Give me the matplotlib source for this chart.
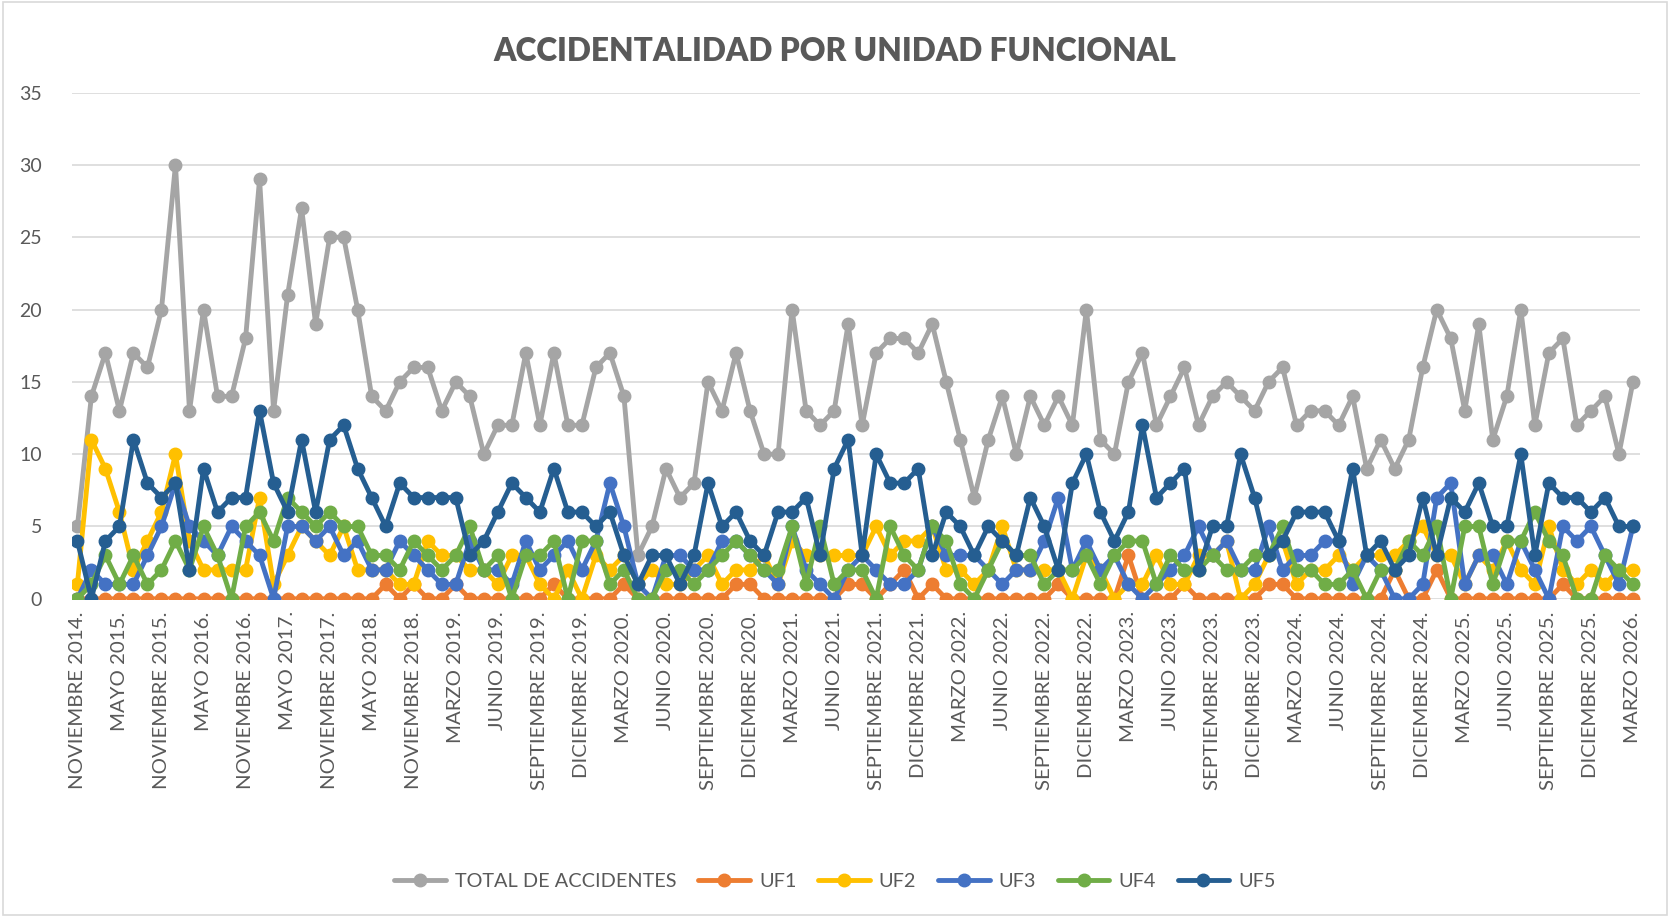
import matplotlib
matplotlib.use("Agg")
import matplotlib.pyplot as plt
from matplotlib.patches import Rectangle

plt.rcParams['font.family'] = ['Lato', 'DejaVu Sans']

# etiquetas visibles del eje X (una cada tres registros)
tick_labels = [
    "NOVIEMBRE 2014.", "MAYO 2015.", "NOVIEMBRE 2015.", "MAYO 2016.", "NOVIEMBRE 2016.",
    "MAYO 2017.", "NOVIEMBRE 2017.", "MAYO 2018.", "NOVIEMBRE 2018.", "MARZO 2019.",
    "JUNIO 2019.", "SEPTIEMBRE 2019.", "DICIEMBRE 2019.", "MARZO 2020.", "JUNIO 2020.",
    "SEPTIEMBRE 2020.", "DICIEMBRE 2020.", "MARZO 2021.", "JUNIO 2021.", "SEPTIEMBRE 2021.",
    "DICIEMBRE 2021.", "MARZO 2022.", "JUNIO 2022.", "SEPTIEMBRE 2022.", "DICIEMBRE 2022.",
    "MARZO 2023.", "JUNIO 2023.", "SEPTIEMBRE 2023.", "DICIEMBRE 2023.", "MARZO 2024.",
    "JUNIO 2024.", "SEPTIEMBRE 2024.", "DICIEMBRE 2024.", "MARZO 2025.", "JUNIO 2025.",
    "SEPTIEMBRE 2025.", "DICIEMBRE 2025.", "MARZO 2026.",
]

total = [5, 14, 17, 13, 17, 16, 20, 30, 13, 20, 14, 14, 18, 29, 13, 21, 27, 19, 25, 25,
         20, 14, 13, 15, 16, 16, 13, 15, 14, 10, 12, 12, 17, 12, 17, 12, 12, 16, 17, 14,
         3, 5, 9, 7, 8, 15, 13, 17, 13, 10, 10, 20, 13, 12, 13, 19, 12, 17, 18, 18,
         17, 19, 15, 11, 7, 11, 14, 10, 14, 12, 14, 12, 20, 11, 10, 15, 17, 12, 14, 16,
         12, 14, 15, 14, 13, 15, 16, 12, 13, 13, 12, 14, 9, 11, 9, 11, 16, 20, 18, 13,
         19, 11, 14, 20, 12, 17, 18, 12, 13, 14, 10, 15]

uf1 = [0, 0, 0, 0, 0, 0, 0, 0, 0, 0, 0, 0, 0, 0, 0, 0, 0, 0, 0, 0,
       0, 0, 1, 0, 1, 0, 0, 1, 0, 0, 0, 0, 0, 0, 1, 0, 0, 0, 0, 1,
       0, 0, 0, 0, 0, 0, 0, 1, 1, 0, 0, 0, 0, 0, 0, 1, 1, 0, 1, 2,
       0, 1, 0, 0, 0, 0, 0, 0, 0, 0, 1, 0, 0, 0, 0, 3, 0, 0, 0, 1,
       0, 0, 0, 0, 0, 1, 1, 0, 0, 0, 0, 0, 0, 0, 2, 0, 0, 2, 0, 0,
       0, 0, 0, 0, 0, 0, 1, 0, 0, 0, 0, 0]

uf2 = [1, 11, 9, 6, 2, 4, 6, 10, 4, 2, 2, 2, 2, 7, 1, 3, 5, 4, 3, 5,
       2, 2, 2, 1, 1, 4, 3, 3, 2, 2, 1, 3, 3, 1, 0, 2, 0, 3, 2, 3,
       1, 2, 1, 1, 2, 3, 1, 2, 2, 3, 1, 4, 3, 3, 3, 3, 3, 5, 3, 4,
       4, 5, 2, 2, 1, 2, 5, 2, 2, 2, 2, 0, 3, 2, 0, 1, 1, 3, 1, 1,
       3, 3, 4, 0, 1, 3, 4, 1, 2, 2, 3, 2, 3, 3, 3, 4, 5, 3, 3, 1,
       3, 2, 4, 2, 1, 5, 2, 1, 2, 1, 2, 2]

uf3 = [0, 2, 1, 1, 1, 3, 5, 8, 5, 4, 3, 5, 4, 3, 0, 5, 5, 4, 5, 3,
       4, 2, 2, 4, 3, 2, 1, 1, 4, 2, 2, 1, 4, 2, 3, 4, 2, 4, 8, 5,
       1, 0, 3, 3, 2, 2, 4, 4, 3, 2, 1, 5, 2, 1, 0, 2, 3, 2, 1, 1,
       2, 5, 3, 3, 3, 2, 1, 2, 2, 4, 7, 2, 4, 2, 3, 1, 0, 1, 2, 3,
       5, 3, 4, 2, 2, 5, 2, 3, 3, 4, 4, 1, 3, 2, 0, 0, 1, 7, 8, 1,
       3, 3, 1, 4, 2, 0, 5, 4, 5, 3, 1, 5]

uf4 = [0, 1, 3, 1, 3, 1, 2, 4, 2, 5, 3, 0, 5, 6, 4, 7, 6, 5, 6, 5,
       5, 3, 3, 2, 4, 3, 2, 3, 5, 2, 3, 0, 3, 3, 4, 0, 4, 4, 1, 2,
       0, 0, 2, 2, 1, 2, 3, 4, 3, 2, 2, 5, 1, 5, 1, 2, 2, 0, 5, 3,
       2, 5, 4, 1, 0, 2, 4, 3, 3, 1, 2, 2, 3, 1, 3, 4, 4, 1, 3, 2,
       2, 3, 2, 2, 3, 3, 5, 2, 2, 1, 1, 2, 0, 2, 2, 4, 3, 5, 0, 5,
       5, 1, 4, 4, 6, 4, 3, 0, 0, 3, 2, 1]

uf5 = [4, 0, 4, 5, 11, 8, 7, 8, 2, 9, 6, 7, 7, 13, 8, 6, 11, 6, 11, 12,
       9, 7, 5, 8, 7, 7, 7, 7, 3, 4, 6, 8, 7, 6, 9, 6, 6, 5, 6, 3,
       1, 3, 3, 1, 3, 8, 5, 6, 4, 3, 6, 6, 7, 3, 9, 11, 3, 10, 8, 8,
       9, 3, 6, 5, 3, 5, 4, 3, 7, 5, 2, 8, 10, 6, 4, 6, 12, 7, 8, 9,
       2, 5, 5, 10, 7, 3, 4, 6, 6, 6, 4, 9, 3, 4, 2, 3, 7, 3, 7, 6,
       8, 5, 5, 10, 3, 8, 7, 7, 6, 7, 5, 5]

series = [
    ("TOTAL DE ACCIDENTES", total, "#A5A5A5"),
    ("UF1", uf1, "#ED7D31"),
    ("UF2", uf2, "#FFC000"),
    ("UF3", uf3, "#4472C4"),
    ("UF4", uf4, "#70AD47"),
    ("UF5", uf5, "#255E91"),
]

text_color = "#595959"

fig = plt.figure(figsize=(16.7, 9.17), dpi=100)
ax = fig.add_axes([0.0434, 0.347, 0.9386, 0.552])

x = list(range(len(total)))
for name, vals, col in series:
    ax.plot(x, vals, color=col, linewidth=3.5, marker="o", markersize=9,
            label=name, solid_joinstyle="round", solid_capstyle="round")

ax.set_ylim(0, 35)
ax.set_yticks(range(0, 36, 5))
ax.set_xlim(-0.35, len(total) - 0.5)
ax.set_xticks(range(0, len(total), 3))
ax.set_xticklabels(tick_labels, rotation=90, va="top", ha="center")
ax.tick_params(axis="both", length=0, labelsize=14, labelcolor=text_color)
ax.tick_params(axis="x", labelsize=14.7, pad=9)
ax.tick_params(axis="y", pad=22)
ax.grid(axis="y", color="#D9D9D9", linewidth=1.2)
ax.set_axisbelow(True)
for sp in ax.spines.values():
    sp.set_visible(False)

fig.suptitle("ACCIDENTALIDAD POR UNIDAD FUNCIONAL", y=0.96, fontsize=22.8,
             fontweight="heavy", color=text_color)

leg = fig.legend(loc="center", bbox_to_anchor=(0.5, 0.039), ncol=6, frameon=False,
                 fontsize=14.3, handlelength=2.6, columnspacing=1.1, handletextpad=0.45)
for t in leg.get_texts():
    t.set_color(text_color)

# borde del área del gráfico
fig.patches.append(Rectangle((0.002, 0.002), 0.996, 0.996, transform=fig.transFigure,
                             fill=False, edgecolor="#D9D9D9", linewidth=1.2))

fig.savefig("out.png", dpi=100)
